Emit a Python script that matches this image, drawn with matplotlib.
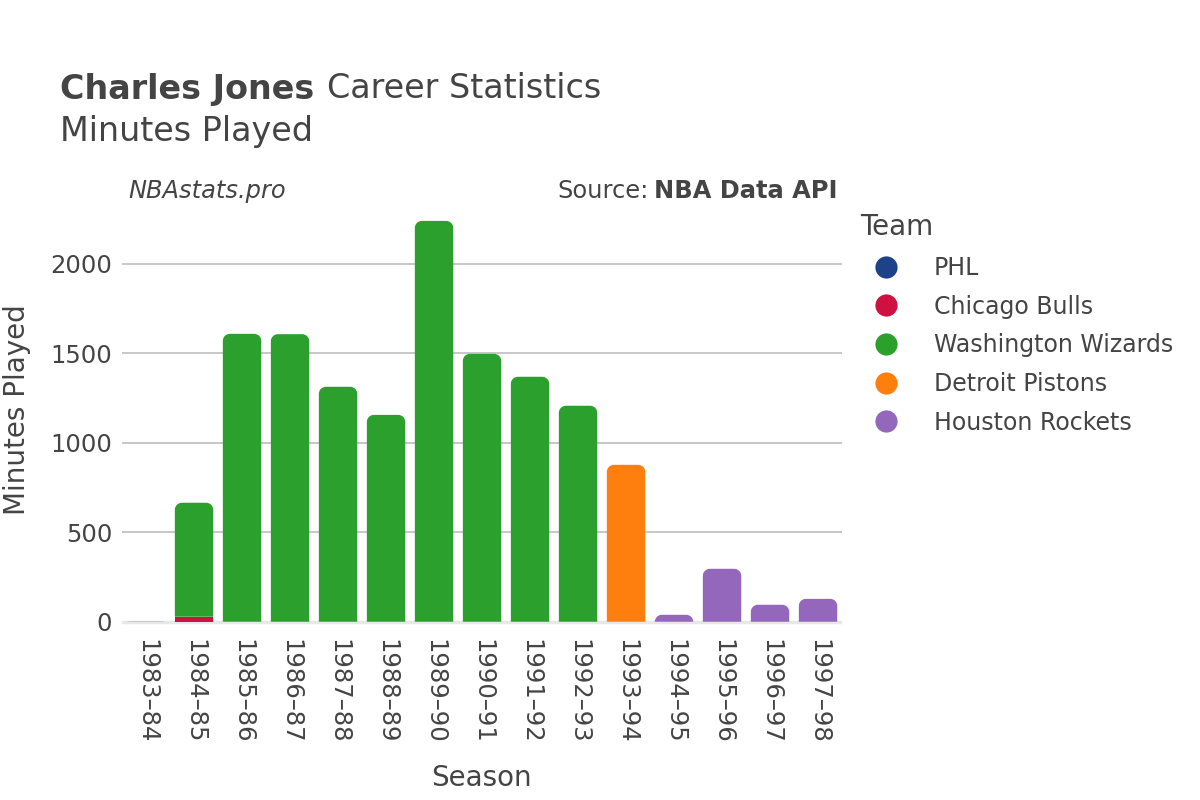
import matplotlib
matplotlib.use("Agg")
import matplotlib.pyplot as plt
from matplotlib.path import Path
from matplotlib.patches import PathPatch
from matplotlib.lines import Line2D
import numpy as np

plt.rcParams['font.family'] = ['DejaVu Sans']

seasons = ["1983\u201384", "1984\u201385", "1985\u201386", "1986\u201387", "1987\u201388",
           "1988\u201389", "1989\u201390", "1990\u201391", "1991\u201392", "1992\u201393",
           "1993\u201394", "1994\u201395", "1995\u201396", "1996\u201397", "1997\u201398"]
teams = ["PHL", "Chicago Bulls", "Washington Wizards", "Detroit Pistons", "Houston Rockets"]
colors = ["#1d428a", "#ce1141", "#2ca02c", "#ff7f0e", "#9467bd"]

phl      = [1, 0, 0, 0, 0, 0, 0, 0, 0, 0, 0, 0, 0, 0, 0]
bulls    = [0, 28, 0, 0, 0, 0, 0, 0, 0, 0, 0, 0, 0, 0, 0]
wizards  = [0, 637, 1609, 1607, 1313, 1156, 2240, 1497, 1369, 1207, 0, 0, 0, 0, 0]
pistons  = [0, 0, 0, 0, 0, 0, 0, 0, 0, 0, 877, 0, 0, 0, 0]
rockets  = [0, 0, 0, 0, 0, 0, 0, 0, 0, 0, 0, 39, 296, 95, 128]
series = [phl, bulls, wizards, pistons, rockets]

text_c = "#444444"
fig = plt.figure(figsize=(12, 8), dpi=100)
ax = fig.add_axes([0.1017, 0.219, 0.600, 0.525])
ax.set_xlim(-0.5, len(seasons) - 0.5)
ax.set_ylim(-17, 2330)

x = np.arange(len(seasons))
bottoms = np.zeros(len(seasons))
totals = np.sum(np.array(series), axis=0)
xpx_per_unit = 720 / len(seasons)
ypx_per_unit = (0.525 * 800) / (2330 + 17)

def rounded_top(x0, y0, w, h, r_px):
    rx = r_px / xpx_per_unit
    ry = r_px / ypx_per_unit
    rx = min(rx, w / 2)
    ry = min(ry, h)
    k = 0.5523
    verts = [
        (x0, y0), (x0, y0 + h - ry),
        (x0, y0 + h - ry + k * ry), (x0 + rx - k * rx, y0 + h), (x0 + rx, y0 + h),
        (x0 + w - rx, y0 + h),
        (x0 + w - rx + k * rx, y0 + h), (x0 + w, y0 + h - ry + k * ry), (x0 + w, y0 + h - ry),
        (x0 + w, y0), (x0, y0)]
    codes = [Path.MOVETO, Path.LINETO,
             Path.CURVE4, Path.CURVE4, Path.CURVE4,
             Path.LINETO,
             Path.CURVE4, Path.CURVE4, Path.CURVE4,
             Path.LINETO, Path.CLOSEPOLY]
    return Path(verts, codes)

for vals, col in zip(series, colors):
    vals = np.array(vals, dtype=float)
    bars = ax.bar(x, vals, width=0.8, bottom=bottoms, color=col, zorder=3)
    for i, b in enumerate(bars):
        if vals[i] <= 0:
            b.remove()
            continue
        is_top = np.isclose(bottoms[i] + vals[i], totals[i])
        if is_top:
            p = rounded_top(b.get_x(), b.get_y(), b.get_width(), b.get_height(), 7)
            b.remove()
            ax.add_patch(PathPatch(p, facecolor=col, edgecolor='none', zorder=3))
    bottoms += vals

ax.set_yticks([0, 500, 1000, 1500, 2000])
ax.yaxis.grid(True, color="#bdbdbd", linewidth=1.2, zorder=0)
ax.axhline(0, color="#e8e8e8", linewidth=2.5, zorder=2)
for s in ax.spines.values():
    s.set_visible(False)
ax.tick_params(axis='both', length=0, labelsize=17.5, labelcolor=text_c)
ax.tick_params(axis='y', pad=7)
ax.set_xticks(x)
ax.set_xticklabels(seasons, rotation=-90)
ax.tick_params(axis='x', pad=10)

fig.text(17 / 1200, 1 - 410 / 800, "Minutes Played", rotation=90, fontsize=20, color=text_c,
         ha='center', va='center')
fig.text(481 / 1200, 1 - 778 / 800, "Season", fontsize=20, color=text_c, ha='center', va='center')

t = fig.text(60 / 1200, 1 - 89 / 800, "Charles Jones", fontsize=24, fontweight='bold',
             color=text_c, ha='left', va='center')
fig.canvas.draw()
bb = t.get_window_extent()
fig.text(bb.x1 / 1200 + 0.011, 1 - 89 / 800, "Career Statistics", fontsize=24,
         color=text_c, ha='left', va='center')
fig.text(60 / 1200, 1 - 132 / 800, "Minutes Played", fontsize=24, color=text_c,
         ha='left', va='center')

fig.text(128 / 1200, 1 - 191 / 800, "NBAstats.pro", fontsize=17.4, style='italic',
         color=text_c, ha='left', va='center')
src = fig.text(838 / 1200, 1 - 191 / 800, "NBA Data API", fontsize=17.4, fontweight='bold',
               color=text_c, ha='right', va='center')
fig.canvas.draw()
bb2 = src.get_window_extent()
fig.text(bb2.x0 / 1200 - 0.005, 1 - 191 / 800, "Source:", fontsize=17.4,
         color=text_c, ha='right', va='center')

handles = [Line2D([0], [0], marker='o', linestyle='none', markersize=16,
                  markerfacecolor=c, markeredgecolor='none') for c in colors]
leg = fig.legend(handles, teams, loc='upper left', bbox_to_anchor=(851 / 1200, 1 - 204 / 800),
                 frameon=False, fontsize=17, title="Team", title_fontsize=20,
                 labelspacing=0.62, handletextpad=0.9, borderaxespad=0, handlelength=2.2)
leg.get_title().set_color(text_c)
leg._legend_box.align = "left"
for txt in leg.get_texts():
    txt.set_color(text_c)

fig.savefig("out.png", dpi=100)
